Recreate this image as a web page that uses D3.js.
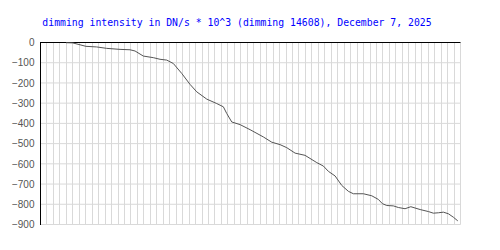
<!DOCTYPE html>
<meta charset="utf-8">
<script src="https://d3js.org/d3.v7.min.js"></script>
<style>
  body { margin: 0; background: #fff; }
</style>
<div id="chart"></div>
<script>

// time position in grid units (one vertical grid line per unit) and dimming values
var times = [3.95, 4.98, 7.04, 8.70, 10.25, 12.31, 13.85, 14.63, 15.91, 17.46, 18.50, 19.54,
  20.56, 21.86, 23.14, 24.18, 25.73, 27.28, 28.30, 28.82, 29.60, 30.88, 32.43, 34.49,
  35.79, 37.07, 38.11, 39.40, 40.94, 42.76, 43.78, 44.55, 45.59, 46.63, 47.65, 48.42,
  49.97, 51.27, 52.29, 52.91, 53.59, 54.61, 55.39, 56.42, 57.31, 58.75, 60.03, 60.80,
  61.58, 62.35, 63.13, 63.90, 64.58];
var values = [-1, -2, -19, -22, -29, -34, -36, -42, -67, -75, -83, -87,
  -104, -153, -207, -244, -280, -302, -318, -351, -393, -406, -431, -467,
  -493, -505, -520, -547, -558, -594, -611, -637, -660, -707, -736, -748,
  -748, -758, -776, -797, -806, -808, -816, -822, -812, -826, -836, -844,
  -842, -839, -847, -864, -882];
var yTicks = [0, -100, -200, -300, -400, -500, -600, -700, -800, -900];
var xGridCount = 65;
var title = "dimming intensity in DN/s * 10^3 (dimming 14608), December 7, 2025";

var width = 500, height = 250;

var svg = d3.select("#chart")
  .append("svg")
    .attr("width", width)
    .attr("height", height);

var x = d3.scaleLinear().domain([0, xGridCount]).range([40.5, 460.5]);
var y = d3.scaleLinear().domain([-900, 0]).range([224.5, 42.5]);

// vertical grid
svg.append("g")
  .selectAll("line")
  .data(d3.range(1, xGridCount + 1))
  .enter()
  .append("line")
    .attr("x1", function(d) { return Math.round(x(d) - 0.5) + 0.5; })
    .attr("x2", function(d) { return Math.round(x(d) - 0.5) + 0.5; })
    .attr("y1", y(0))
    .attr("y2", y(-900))
    .attr("stroke", "#d9d9d9")
    .attr("stroke-width", 1);

// horizontal grid
svg.append("g")
  .selectAll("line")
  .data(yTicks.slice(1))
  .enter()
  .append("line")
    .attr("x1", x(0))
    .attr("x2", x(xGridCount))
    .attr("y1", function(d) { return y(d); })
    .attr("y2", function(d) { return y(d); })
    .attr("stroke", "#d9d9d9")
    .attr("stroke-width", 1);

// y axis labels
var yAxis = svg.append("g")
  .attr("transform", "translate(" + x(0) + ",0)")
  .call(d3.axisLeft(y).tickValues(yTicks).tickSize(0).tickPadding(6)
    .tickFormat(function(d) { return d3.format("d")(d).replace("-", "\u2212"); }));
yAxis.select(".domain").remove();
yAxis.selectAll("text")
  .style("font-family", "'Liberation Sans', Arial, sans-serif")
  .style("font-size", "10px")
  .attr("fill", "#555");

// left and top axis lines
svg.append("line")
  .attr("x1", x(0)).attr("x2", x(0))
  .attr("y1", y(0) - 0.5).attr("y2", y(-900) + 0.5)
  .attr("stroke", "#000");
svg.append("line")
  .attr("x1", x(0)).attr("x2", x(xGridCount))
  .attr("y1", y(0)).attr("y2", y(0))
  .attr("stroke", "#000");

// the data line
var line = d3.line()
  .x(function(d, i) { return x(times[i]); })
  .y(function(d) { return y(d); });
svg.append("path")
  .datum(values)
  .attr("d", line)
  .attr("fill", "none")
  .attr("stroke", "#555")
  .attr("stroke-width", 1);

// title
svg.append("text")
  .attr("x", 237)
  .attr("y", 26)
  .attr("text-anchor", "middle")
  .style("font-family", "'DejaVu Sans Mono', monospace")
  .style("font-size", "9.8px")
  .attr("fill", "#0000ff")
  .text(title);

</script>
